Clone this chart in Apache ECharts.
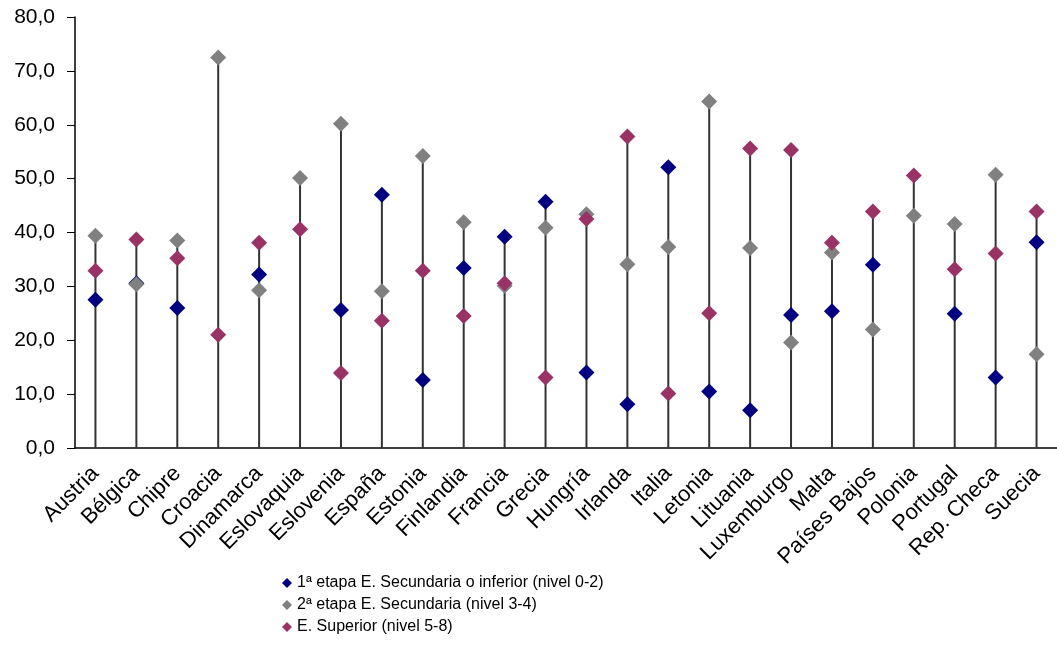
<!DOCTYPE html>
<html>
<head>
<meta charset="utf-8">
<script src="https://cdn.jsdelivr.net/npm/echarts@6/dist/echarts.min.js"></script>
<style>
html,body{margin:0;padding:0;background:#fff;}
#chart{width:1057px;height:657px;}
</style>
</head>
<body>
<div id="chart"></div>
<script>
const categories = ["Austria","Bélgica","Chipre","Croacia","Dinamarca","Eslovaquia","Eslovenia","España","Estonia","Finlandia","Francia","Grecia","Hungría","Irlanda","Italia","Letonia","Lituania","Luxemburgo","Malta","Países Bajos","Polonia","Portugal","Rep. Checa","Suecia"];
const nivel02 = [27.5,30.6,26.0,null,32.2,null,25.6,47.0,12.6,33.4,39.2,45.7,14.0,8.1,52.1,10.5,7.0,24.7,25.4,34.0,null,24.9,13.1,38.2];
const nivel34 = [39.4,30.4,38.5,72.5,29.3,50.1,60.2,29.1,54.2,41.9,30.1,40.9,43.4,34.1,37.3,64.3,37.1,19.6,36.3,22.0,43.1,41.6,50.7,17.4];
const nivel58 = [32.9,38.7,35.2,21.0,38.1,40.6,13.9,23.6,32.9,24.5,30.6,13.1,42.5,57.8,10.1,25.0,55.6,55.3,38.1,43.9,50.6,33.2,36.1,43.9];
const seriesNames = ["1ª etapa E. Secundaria o inferior (nivel 0-2)","2ª etapa E. Secundaria (nivel 3-4)","E. Superior (nivel 5-8)"];
const yTicks = {min:0, max:80, interval:10};

const maxVals = categories.map((c,i)=>Math.max(...[nivel02[i],nivel34[i],nivel58[i]].filter(v=>v!=null)));
const font = "'Liberation Sans', Arial, sans-serif";
const chart = echarts.init(document.getElementById('chart'));
const markerSeries = (name, data, color) => ({
  name, type:'scatter', data, symbol:'diamond', symbolSize:16,
  itemStyle:{color, opacity:1}, z:3, animation:false
});
chart.setOption({
  animation:false,
  grid:{left:75, right:-9, top:17, bottom:209, containLabel:false},
  xAxis:{
    type:'category', data:categories,
    axisLine:{lineStyle:{color:'#000', width:1.5}},
    axisTick:{show:false},
    axisLabel:{rotate:45, interval:0, margin:22, color:'#000', fontFamily:font, fontSize:22}
  },
  yAxis:{
    type:'value', min:yTicks.min, max:yTicks.max, interval:yTicks.interval,
    splitLine:{show:false},
    axisLine:{show:true, lineStyle:{color:'#000', width:1.5}},
    axisTick:{show:true, length:8, lineStyle:{color:'#000'}},
    axisLabel:{margin:20, color:'#000', fontFamily:font, fontSize:21,
      formatter:v=>v.toFixed(1).replace('.', ',')}
  },
  legend:{
    orient:'vertical', left:277, top:570, itemGap:6,
    data:seriesNames.map(n=>({name:n, icon:'diamond'})),
    itemWidth:10, itemHeight:10,
    textStyle:{fontFamily:font, fontSize:16, color:'#000'}
  },
  series:[
    {name:'drop', type:'bar', data:maxVals, barWidth:2, itemStyle:{color:'#333'}, z:1, silent:true},
    markerSeries(seriesNames[0], nivel02, '#000080'),
    markerSeries(seriesNames[1], nivel34, '#808080'),
    markerSeries(seriesNames[2], nivel58, '#993366')
  ]
});
</script>
</body>
</html>
